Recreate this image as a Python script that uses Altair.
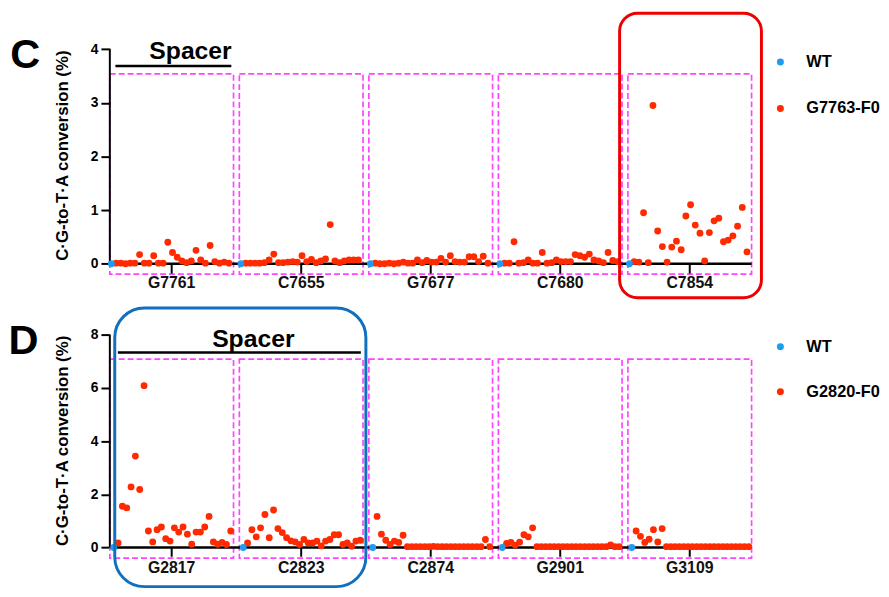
import altair as alt
import pandas as pd

FONT = "Liberation Sans"
RED = "#ff2a00"
BLUE = "#1f9bf0"
MAGENTA = "#ff44ff"
TITLE = "C·G-to-T·A conversion (%)"

# ---------------- Panel C data ----------------
c_groups = ["G7761", "C7655", "G7677", "C7680", "C7854"]
c_series = ["WT", "G7763-F0"]
c_wt = [0.0, 0.0, 0.0, 0.0, 0.0]
c_G7761 = [0.01, 0.01, 0.00, 0.01, 0.01, 0.17, 0.01, 0.01, 0.15, 0.01, 0.01, 0.40, 0.21,
           0.12, 0.05, 0.02, 0.05, 0.25, 0.07, 0.01, 0.34, 0.04, 0.01, 0.03, 0.01]
c_C7655 = [0.01, 0.01, 0.01, 0.01, 0.02, 0.07, 0.18, 0.02, 0.02, 0.03, 0.04, 0.03, 0.15,
           0.04, 0.08, 0.02, 0.05, 0.09, 0.73, 0.05, 0.02, 0.05, 0.07, 0.07, 0.07]
c_G7677 = [0.01, 0.00, 0.00, 0.01, 0.00, 0.01, 0.03, 0.01, 0.01, 0.07, 0.02, 0.06, 0.03,
           0.03, 0.10, 0.03, 0.15, 0.04, 0.03, 0.03, 0.13, 0.13, 0.04, 0.14, 0.01]
c_C7680 = [0.01, 0.01, 0.41, 0.01, 0.02, 0.07, 0.01, 0.01, 0.21, 0.01, 0.02, 0.07, 0.04,
           0.04, 0.04, 0.17, 0.15, 0.12, 0.18, 0.07, 0.05, 0.02, 0.21, 0.06, 0.04]
c_C7854 = [0.04, 0.03, 0.95, 0.02, 2.95, 0.61, 0.32, 0.03, 0.31, 0.42, 0.26, 0.89, 1.10,
           0.72, 0.57, 0.05, 0.58, 0.80, 0.85, 0.41, 0.44, 0.52, 0.70, 1.05, 0.22]
c_yticks = [0, 1, 2, 3, 4]

# ---------------- Panel D data ----------------
d_groups = ["G2817", "C2823", "C2874", "G2901", "G3109"]
d_series = ["WT", "G2820-F0"]
d_wt = [0.0, 0.0, 0.0, 0.0, 0.0]
d_G2817 = [0.17, 1.55, 1.49, 2.28, 3.44, 2.18, 6.09, 0.62, 0.21, 0.67, 0.77, 0.33, 0.24, 0.74,
           0.58, 0.77, 0.50, 0.12, 0.58, 0.58, 0.77, 1.17, 0.21, 0.12, 0.19, 0.11, 0.62]
d_C2823 = [0.17, 0.67, 0.40, 0.74, 1.24, 0.37, 1.41, 0.71, 0.56, 0.37, 0.25, 0.21, 0.11, 0.30,
           0.17, 0.17, 0.24, 0.06, 0.24, 0.30, 0.48, 0.48, 0.11, 0.17, 0.05, 0.24, 0.27]
d_C2874 = [1.17, 0.50, 0.27, 0.11, 0.24, 0.19, 0.46, 0.03, 0.03, 0.03, 0.03, 0.03, 0.03, 0.04,
           0.03, 0.03, 0.03, 0.03, 0.03, 0.03, 0.03, 0.03, 0.03, 0.03, 0.03, 0.30, 0.03]
d_G2901 = [0.15, 0.19, 0.09, 0.20, 0.48, 0.40, 0.74, 0.03, 0.03, 0.03, 0.03, 0.03, 0.03, 0.03,
           0.03, 0.03, 0.03, 0.03, 0.03, 0.03, 0.03, 0.03, 0.03, 0.03, 0.10, 0.03, 0.03]
d_G3109 = [0.62, 0.42, 0.19, 0.31, 0.67, 0.21, 0.71, 0.03, 0.03, 0.03, 0.03, 0.03, 0.03, 0.03,
           0.03, 0.03, 0.03, 0.03, 0.03, 0.03, 0.03, 0.03, 0.03, 0.03, 0.03, 0.03, 0.03]
d_yticks = [0, 2, 4, 6, 8]

PLOT_W = 770
X_DOMAIN = [0, PLOT_W / 131.0]   # one unit = one group slot
BOX_W = 0.955


def points_df(groups, series, wt, lists, first, step):
    rows = []
    for g, vals in enumerate(lists):
        rows.append({"x": g + first, "y": wt[g], "series": series[0]})
        for i, v in enumerate(vals, start=1):
            rows.append({"x": g + first + i * step, "y": v, "series": series[1]})
    return pd.DataFrame(rows)


def make_panel(letter, groups, series, pts, y_dom, y_ticks, height, box_y, tick_len,
               label_y, spacer_text, spacer_rule, hl, hl_color, hl_radius, letter_pos,
               title_y, legend_y, rowpad):
    xs = alt.Scale(domain=X_DOMAIN, nice=False, zero=False)
    ys = alt.Scale(domain=y_dom, nice=False, zero=False)
    yaxis = alt.Axis(values=y_ticks, title=TITLE, domain=False, grid=False,
                     tickSize=9, tickWidth=2, tickColor="black",
                     labelFont=FONT, labelFontSize=14, labelFontWeight="bold",
                     labelColor="black", labelPadding=3,
                     titleFont=FONT, titleFontSize=17, titleFontWeight="bold",
                     titleColor="black", titleX=-39, titleY=title_y)

    def X(f):
        return alt.X(f, scale=xs, axis=None)

    def Y(f):
        return alt.Y(f, scale=ys, axis=yaxis)

    n = len(groups)
    boxes = pd.DataFrame({"x": [g for g in range(n)], "x2": [g + BOX_W for g in range(n)],
                          "y": [box_y[0]] * n, "y2": [box_y[1]] * n})
    box_layer = alt.Chart(boxes).mark_rect(
        fillOpacity=0, stroke=MAGENTA, strokeWidth=1.7, strokeDash=[6, 3]
    ).encode(x=X("x:Q"), x2="x2:Q", y=Y("y:Q"), y2="y2:Q")

    yline = alt.Chart(pd.DataFrame({"x": [0], "y": [y_ticks[0]], "y2": [y_ticks[-1]]})).mark_rule(
        color="black", strokeWidth=2
    ).encode(x=X("x:Q"), y=Y("y:Q"), y2="y2:Q")

    xline = alt.Chart(pd.DataFrame({"x": [0], "x2": [n - 1 + BOX_W], "y": [0]})).mark_rule(
        color="black", strokeWidth=2.5
    ).encode(x=X("x:Q"), x2="x2:Q", y=Y("y:Q"))

    centers = [g + BOX_W / 2 for g in range(n)]
    ticks = alt.Chart(pd.DataFrame({"x": centers, "y": [0] * n, "y2": [-tick_len] * n})).mark_rule(
        color="black", strokeWidth=2
    ).encode(x=X("x:Q"), y=Y("y:Q"), y2="y2:Q")

    labels = alt.Chart(pd.DataFrame({"x": centers, "y": [label_y] * n, "t": groups})).mark_text(
        font=FONT, fontSize=16, fontWeight="bold", color="#111111", align="center", baseline="middle"
    ).encode(x=X("x:Q"), y=Y("y:Q"), text="t:N")

    pts_layer = alt.Chart(pts).mark_circle(size=48, opacity=1).encode(
        x=X("x:Q"), y=Y("y:Q"),
        color=alt.Color("series:N", scale=alt.Scale(domain=series, range=[BLUE, RED]),
                        legend=alt.Legend(orient="none", legendX=670, legendY=legend_y,
                                          direction="vertical", title=None,
                                          symbolType="circle", symbolSize=50,
                                          symbolStrokeWidth=0,
                                          labelFont=FONT, labelFontSize=16.5,
                                          labelFontWeight="bold", labelColor="black",
                                          labelOffset=18, rowPadding=rowpad, padding=0)),
        order=alt.Order("series:N", sort="ascending"),
    )

    sp_rule = alt.Chart(pd.DataFrame({"x": [spacer_rule[0]], "x2": [spacer_rule[1]],
                                      "y": [spacer_rule[2]]})).mark_rule(
        color="black", strokeWidth=2.5
    ).encode(x=X("x:Q"), x2="x2:Q", y=Y("y:Q"))
    sp_text = alt.Chart(pd.DataFrame({"x": [spacer_text[0]], "y": [spacer_text[1]],
                                      "t": ["Spacer"]})).mark_text(
        font=FONT, fontSize=25, fontWeight="bold", color="black", align="center",
        baseline="alphabetic"
    ).encode(x=X("x:Q"), y=Y("y:Q"), text="t:N")

    hl_layer = alt.Chart(pd.DataFrame({"x": [hl[0]], "x2": [hl[1]], "y": [hl[2]], "y2": [hl[3]]})).mark_rect(
        fillOpacity=0, stroke=hl_color, strokeWidth=3, cornerRadius=hl_radius
    ).encode(x=X("x:Q"), x2="x2:Q", y=Y("y:Q"), y2="y2:Q")

    let_layer = alt.Chart(pd.DataFrame({"x": [letter_pos[0]], "y": [letter_pos[1]],
                                        "t": [letter]})).mark_text(
        font=FONT, fontSize=42, fontWeight="bold", color="black", align="left",
        baseline="alphabetic"
    ).encode(x=X("x:Q"), y=Y("y:Q"), text="t:N")

    return alt.layer(box_layer, yline, xline, ticks, labels, pts_layer, sp_rule, sp_text,
                     hl_layer, let_layer).properties(width=PLOT_W, height=height)


c_pts = points_df(c_groups, c_series, c_wt, [c_G7761, c_C7655, c_G7677, c_C7680, c_C7854],
                  0.012, 0.0363)
d_pts = points_df(d_groups, d_series, d_wt, [d_G2817, d_C2823, d_C2874, d_G2901, d_G3109],
                  0.030, 0.03346)

panel_c = make_panel(
    "C", c_groups, c_series, c_pts,
    y_dom=[-0.695, 4.6876], y_ticks=c_yticks, height=292,
    box_y=[-0.195, 3.54], tick_len=0.184, label_y=-0.363,
    spacer_text=(0.623, 3.821), spacer_rule=(0.043, 0.938, 3.687),
    hl=(3.936, 5.031, -0.634, 4.669), hl_color="#ee0000", hl_radius=18,
    letter_pos=(-0.769, 3.655), title_y=144.5, legend_y=42, rowpad=30)

panel_d = make_panel(
    "D", d_groups, d_series, d_pts,
    y_dom=[-1.552, 9.202], y_ticks=d_yticks, height=289,
    box_y=[-0.40, 7.09], tick_len=0.35, label_y=-0.77,
    spacer_text=(1.108, 7.527), spacer_rule=(0.062, 1.938, 7.341),
    hl=(0.038, 1.977, -1.474, 9.016), hl_color="#1070c0", hl_radius=30,
    letter_pos=(-0.782, 7.278), title_y=139, legend_y=36, rowpad=28.5)

chart = alt.vconcat(panel_c, panel_d, spacing=0).resolve_scale(
    x="independent", y="independent", color="independent"
).resolve_legend(color="independent").properties(padding=0).configure(
    background="white"
).configure_view(stroke="transparent")

chart.save("out.html", embed_options={"renderer": "svg", "actions": False})
